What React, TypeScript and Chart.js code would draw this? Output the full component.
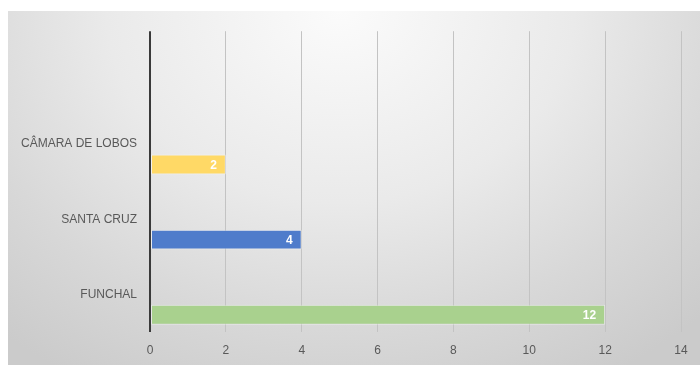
import React, { useEffect, useRef } from "react";
import { Chart, registerables } from "chart.js";

Chart.register(...registerables);

const categories = ["", "CÂMARA DE LOBOS", "SANTA CRUZ", "FUNCHAL"];
const values = [null, 2, 4, 12];
const spacerValues = [null, null, null, null];
const barColors = ["#ffd966", "#ffd966", "#4f7ccb", "#a9d18e"];
const xTicks = [0, 2, 4, 6, 8, 10, 12, 14];

const FONT = '"Liberation Sans", Arial, sans-serif';

const valueLabels = {
  id: "valueLabels",
  afterDatasetsDraw(chart: any) {
    const ctx = chart.ctx;
    const meta = chart.getDatasetMeta(1);
    ctx.save();
    ctx.fillStyle = "#ffffff";
    ctx.font = `bold 12px ${FONT}`;
    ctx.textAlign = "right";
    ctx.textBaseline = "middle";
    meta.data.forEach((bar: any, i: number) => {
      const v = values[i];
      if (v === null || v === undefined) return;
      ctx.fillText(String(v), bar.x - 9, bar.y + 1);
    });
    ctx.restore();
  },
};

export default function App() {
  const ref = useRef<HTMLCanvasElement | null>(null);
  useEffect(() => {
    if (!ref.current) return;
    const chart = new Chart(ref.current, {
      type: "bar",
      data: {
        labels: categories,
        datasets: [
          {
            label: "",
            data: spacerValues,
            backgroundColor: "rgba(0,0,0,0)",
          },
          {
            label: "Valor",
            data: values,
            backgroundColor: barColors,
            borderColor: "rgba(255,255,255,0.45)",
            borderWidth: 1,
            borderSkipped: false,
          },
        ],
      },
      options: {
        indexAxis: "y",
        animation: false,
        responsive: false,
        maintainAspectRatio: false,
        events: [],
        layout: { padding: { top: 19, right: 19, left: 0, bottom: 0 } },
        plugins: {
          legend: { display: false },
          tooltip: { enabled: false },
        },
        datasets: {
          bar: {
            categoryPercentage: 1.086,
            barPercentage: 0.488,
          },
        },
        scales: {
          x: {
            type: "linear",
            min: 0,
            max: 14,
            afterBuildTicks: (scale: any) => {
              scale.ticks = xTicks.map((v) => ({ value: v }));
            },
            afterFit: (scale: any) => {
              scale.height = 33;
            },
            ticks: {
              color: "#595959",
              font: { family: FONT, size: 12 },
              padding: 11,
            },
            grid: {
              drawTicks: false,
              color: (c: any) => (c.index === 0 ? "#3a3a3a" : "#c3c3c3"),
              lineWidth: (c: any) => (c.index === 0 ? 2 : 1),
            },
            border: { display: false },
          },
          y: {
            type: "category",
            offset: true,
            afterFit: (scale: any) => {
              scale.width = 142;
            },
            ticks: {
              color: "#595959",
              font: { family: FONT, size: 12 },
              padding: 13,
            },
            grid: { display: false, drawTicks: false },
            border: { display: false },
          },
        },
      },
      plugins: [valueLabels],
    } as any);
    return () => chart.destroy();
  }, []);

  return (
    <div
      style={{
        position: "absolute",
        left: 8,
        top: 11,
        width: 692,
        height: 354,
        background:
          "radial-gradient(ellipse 75% 120% at 48% 0%, #fbfbfb 0%, #eaeaea 45%, #d8d8d8 75%, #cbcbcb 100%)",
      }}
    >
      <canvas ref={ref} width={692} height={354} style={{ display: "block" }} />
    </div>
  );
}
